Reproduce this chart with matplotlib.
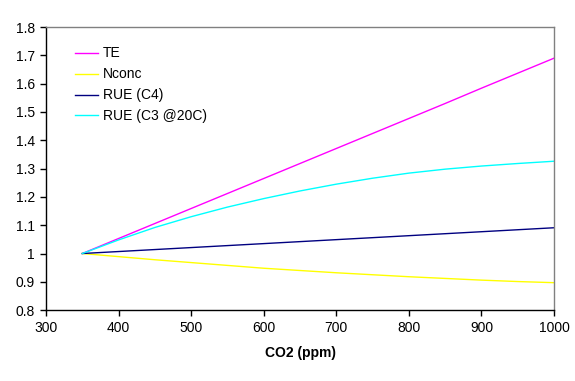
"""
CO2 response curves: TE, Nconc, RUE (C4), RUE (C3 @20C)
"""

import matplotlib
matplotlib.use("Agg")
import matplotlib.pyplot as plt

co2 = [350, 400, 450, 500, 550, 600, 650, 700, 750, 800, 850, 900, 950, 1000]
te = [1.0, 1.053, 1.106, 1.159, 1.212, 1.265, 1.318, 1.371, 1.424, 1.477, 1.530, 1.584, 1.637, 1.690]
nconc = [1.0, 0.989, 0.978, 0.968, 0.958, 0.948, 0.940, 0.932, 0.925, 0.918, 0.912, 0.906, 0.901, 0.897]
rue_c4 = [1.0, 1.007, 1.014, 1.021, 1.028, 1.035, 1.042, 1.049, 1.056, 1.063, 1.070, 1.077, 1.084, 1.091]
rue_c3 = [1.0, 1.048, 1.092, 1.130, 1.164, 1.194, 1.221, 1.245, 1.266, 1.284, 1.298, 1.309, 1.318, 1.326]

series = [
    ("TE", te, "#ff00ff"),
    ("Nconc", nconc, "#ffff00"),
    ("RUE (C4)", rue_c4, "#000080"),
    ("RUE (C3 @20C)", rue_c3, "#00ffff"),
]

plt.rcParams["font.family"] = ["Liberation Sans", "DejaVu Sans"]

fig = plt.figure(figsize=(5.75, 3.81), dpi=100)
ax = fig.add_axes([0.08, 0.186, 0.8835, 0.743])

for name, vals, col in series:
    ax.plot(co2, vals, color=col, linewidth=1.0, label=name)

ax.set_xlim(300, 1000)
ax.set_ylim(0.8, 1.8)
ax.set_xticks(range(300, 1001, 100))
ax.set_yticks([0.8 + 0.1 * i for i in range(11)])
ax.set_yticklabels(["0.8", "0.9", "1", "1.1", "1.2", "1.3", "1.4", "1.5", "1.6", "1.7", "1.8"])
ax.tick_params(direction="out", length=4, width=1, labelsize=10, colors="black", pad=4)

for s in ("left", "bottom"):
    ax.spines[s].set_color("black")
    ax.spines[s].set_linewidth(1.0)
for s in ("top", "right"):
    ax.spines[s].set_color("#808080")
    ax.spines[s].set_linewidth(1.0)

ax.set_xlabel("CO2 (ppm)", fontsize=10, fontweight="bold", labelpad=8)

ax.legend(loc="upper left", bbox_to_anchor=(0.047, 0.951), frameon=False,
          fontsize=10, handlelength=1.65, handletextpad=0.3, labelspacing=0.5,
          borderaxespad=0)

fig.savefig("out.png", dpi=100)
